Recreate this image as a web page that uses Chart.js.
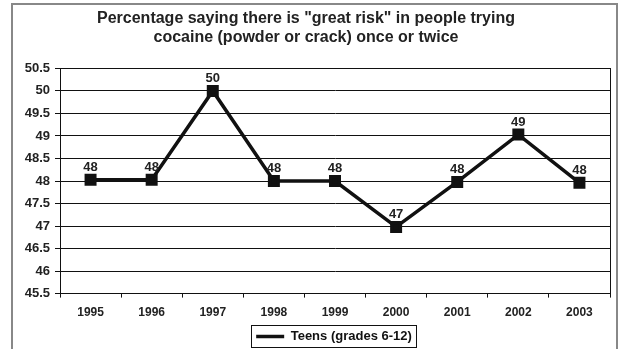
<!DOCTYPE html>
<html>
<head>
<meta charset="utf-8">
<script src="https://cdn.jsdelivr.net/npm/chart.js@4"></script>
<style>
  html, body { margin: 0; padding: 0; background: #fff; }
  #wrap { width: 621px; height: 349px; position: relative; }
</style>
</head>
<body>
<div id="wrap"><canvas id="chart"></canvas></div>
<script>
var years = ['1995', '1996', '1997', '1998', '1999', '2000', '2001', '2002', '2003'];
var teens = [48.03, 48.03, 50, 48, 48, 46.98, 47.98, 49.03, 47.96];
var pointLabels = ['48', '48', '50', '48', '48', '47', '48', '49', '48'];
var titleLines = ['Percentage saying there is "great risk" in people trying', 'cocaine (powder or crack) once or twice'];

Chart.defaults.font.family = '"Liberation Sans", Arial, sans-serif';
Chart.defaults.color = '#222';

// frame round the whole chart and the plot area
var framePlugin = {
    id: 'frame',
    afterLayout: function(chart) {
        // title sits a little left of centre, legend is centred under the plot
        chart.titleBlock.left -= 6;
        chart.titleBlock.right -= 6;
        chart.legend.left += 22;
        chart.legend.right += 22;
    },
    beforeDraw: function(chart) {
        var ctx = chart.ctx;
        ctx.save();
        ctx.strokeStyle = '#888';
        ctx.lineWidth = 2;
        ctx.strokeRect(12, 4, 605, 360);
        var a = chart.chartArea;
        ctx.strokeStyle = '#111';
        ctx.lineWidth = 1;
        ctx.strokeRect(Math.round(a.left) + 0.5, Math.round(a.top) + 0.5, Math.round(a.right - a.left), Math.round(a.bottom - a.top));
        ctx.restore();
    }
};

// value labels above the points + box round the legend
var labelPlugin = {
    id: 'labels',
    afterDatasetsDraw: function(chart) {
        var ctx = chart.ctx;
        var meta = chart.getDatasetMeta(0);
        ctx.save();
        ctx.font = 'bold 13px "Liberation Sans", Arial, sans-serif';
        ctx.fillStyle = '#222';
        ctx.textAlign = 'center';
        ctx.textBaseline = 'alphabetic';
        meta.data.forEach(function(pt, i) {
            ctx.fillText(pointLabels[i], pt.x, pt.y - 9);
        });
        ctx.restore();
    },
    afterDraw: function(chart) {
        var hb = chart.legend.legendHitBoxes[0];
        if (!hb) return;
        var ctx = chart.ctx;
        ctx.save();
        ctx.strokeStyle = '#111';
        ctx.lineWidth = 1;
        ctx.strokeRect(Math.round(hb.left) - 4.5, Math.round(hb.top) - 4.5, Math.round(hb.width) + 9, Math.round(hb.height) + 9);
        ctx.restore();
    }
};

var ctx = document.getElementById('chart').getContext('2d');
var chart = new Chart(ctx, {
    type: 'line',
    data: {
        labels: years,
        datasets: [{
            label: 'Teens (grades 6-12)',
            data: teens,
            borderColor: '#111',
            backgroundColor: '#111',
            borderWidth: 3.5,
            pointStyle: 'rect',
            pointRadius: 6,
            pointBackgroundColor: '#111',
            pointBorderColor: '#111',
            tension: 0
        }]
    },
    options: {
        responsive: true,
        maintainAspectRatio: false,
        animation: false,
        layout: { padding: { left: 14, right: 11, top: 2, bottom: -4 } },
        plugins: {
            title: {
                display: true,
                text: titleLines,
                font: { size: 16, weight: 'bold', lineHeight: 1.2 },
                color: '#222',
                padding: { top: 7, bottom: 21 }
            },
            legend: {
                position: 'bottom',
                labels: {
                    usePointStyle: true,
                    pointStyle: 'line',
                    pointStyleWidth: 28,
                    padding: 0,
                    color: '#111',
                    font: { size: 13, weight: 'bold' }
                }
            },
            tooltip: { enabled: false }
        },
        scales: {
            x: {
                offset: true,
                afterFit: function(axis) { axis.height += 2; },
                grid: {
                    display: true,
                    offset: true,
                    drawOnChartArea: false,
                    drawTicks: true,
                    tickLength: 4,
                    color: '#111'
                },
                border: { color: '#111' },
                ticks: {
                    color: '#222',
                    padding: 8,
                    font: { size: 12, weight: 'bold' },
                    maxRotation: 0
                }
            },
            y: {
                min: 45.5,
                max: 50.5,
                afterFit: function(axis) { axis.width = 46; },
                grid: {
                    color: '#111',
                    tickLength: 5
                },
                border: { color: '#111' },
                ticks: {
                    stepSize: 0.5,
                    color: '#222',
                    padding: 5,
                    font: { size: 13, weight: 'bold' },
                    callback: function(v) { return String(v); }
                }
            }
        }
    },
    plugins: [framePlugin, labelPlugin]
});
</script>
</body>
</html>
